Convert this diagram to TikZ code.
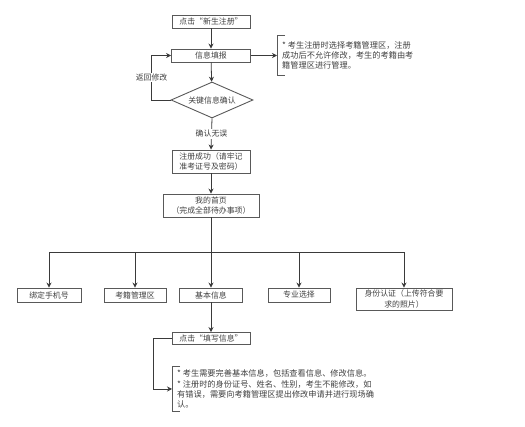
\documentclass[tikz,border=0pt]{standalone}
\usepackage{fontspec}
\newfontfamily\cjk{Noto Sans CJK SC}
\usepackage{xcolor}
\definecolor{cLine}{HTML}{3A3A3A}
\definecolor{cBox}{HTML}{595959}
\definecolor{cText}{HTML}{404040}
\usetikzlibrary{positioning,arrows.meta,shapes.geometric,calc}
\tikzset{
  node-box/.style={draw=cBox,line width=0.9pt,minimum height=13pt,inner sep=1pt,
    align=center,text=cText,font=\cjk\fontsize{7.9}{10}\selectfont},
  node-check/.style={draw=cBox,line width=0.9pt,diamond,aspect=2.3,inner sep=0pt,
    minimum width=82pt,minimum height=36pt,text=cText,font=\cjk\fontsize{7.9}{10}\selectfont},
  node-note/.style={anchor=west,align=left,inner xsep=5pt,inner ysep=0pt,text=cText,
    font=\cjk\fontsize{8.2}{10.2}\selectfont},
  node-tag/.style={fill=white,inner sep=1pt,text=cText,font=\cjk\fontsize{7.9}{10}\selectfont},
  bracket/.style={draw=cBox,line width=0.9pt},
  arrow/.style={-{Stealth[length=5pt,width=5pt]},line width=0.8pt,draw=cLine},
  line-plain/.style={line width=0.8pt,draw=cLine},
}

\begin{document}
\begin{tikzpicture}[x=1pt,y=1pt]
  \useasboundingbox (0,0) rectangle (525,-427);
  % main column
  \node[node-box,minimum width=78pt] (reg) at (211,-21.5) {点击“新生注册”};
  \node[node-box,minimum width=79pt] (fill) at (211,-55.5) {信息填报};
  \node[node-check] (chk) at (212,-100) {关键信息确认};
  \node[node-box,minimum width=78pt,minimum height=23pt] (ok) at (211,-161.5)
    {注册成功（请牢记\\准考证号及密码）};
  \node[node-box,minimum width=96pt,minimum height=23pt] (home) at (211,-205.5)
    {我的首页\\（完成全部待办事项）};
  \node[node-note,minimum height=40pt] (note1) at (277,-55.5)
    {* 考生注册时选择考籍管理区，注册\\成功后不允许修改，考生的考籍由考\\籍管理区进行管理。};
  % todo items
  \node[node-box,minimum width=64pt,minimum height=14pt] (phone) at (49,-295) {绑定手机号};
  \node[node-box,minimum width=62pt,minimum height=14pt] (area) at (135,-295) {考籍管理区};
  \node[node-box,minimum width=63pt,minimum height=14pt] (basic) at (211,-295) {基本信息};
  \node[node-box,minimum width=62pt,minimum height=14pt] (major) at (299,-295) {专业选择};
  \node[node-box,minimum width=96pt,minimum height=22pt] (ident) at (404,-299)
    {身份认证（上传符合要\\求的照片）};
  \node[node-box,minimum width=78pt,minimum height=12pt] (fillin) at (211,-338.5) {点击“填写信息”};
  \node[node-note,minimum height=44pt] (note2) at (172,-389)
    {* 考生需要完善基本信息，包括查看信息、修改信息。\\* 注册时的身份证号、姓名、性别，考生不能修改，如\\有错误，需要向考籍管理区提出修改申请并进行现场确\\认。};
  \draw[bracket] ([xshift=8pt]note1.north west) -- (note1.north west) -- (note1.south west) -- ++(8,0);
  \draw[bracket] ([xshift=8pt]note2.north west) -- (note2.north west) -- (note2.south west) -- ++(8,0);

  \draw[arrow] (reg) -- (fill);
  \draw[arrow] (fill) -- (chk);
  \draw[arrow] (fill.east) -- (note1.west);
  \draw[arrow] (chk.west) -- ++(-19,0) |- node[node-tag,pos=0.25]{返回修改} (fill.west);
  \draw[arrow] (chk.south) -- node[node-tag]{确认无误} (ok.north);
  \draw[arrow] (ok) -- (home);
  \coordinate (split) at (211,-252);
  \draw[line-plain] (home.south) -- (split);
  \draw[arrow] (split) -- (basic.north);
  \foreach \n in {phone,area,major,ident}
    \draw[arrow] (split) -| (\n.north);
  \draw[arrow] (basic) -- (fillin);
  \draw[arrow] (fillin.west) -- ++(-18,0) |- (note2.west);
\end{tikzpicture}
\end{document}
